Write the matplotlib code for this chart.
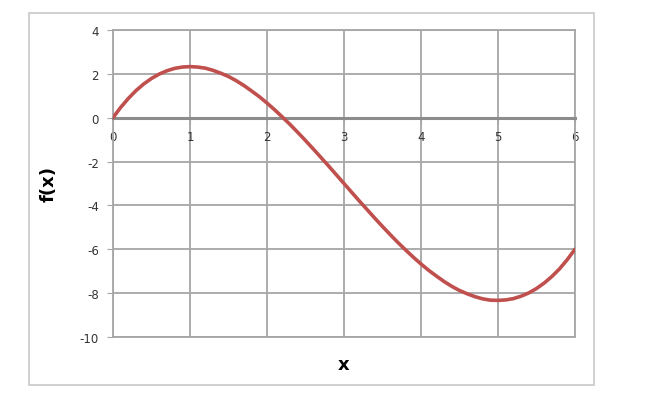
import matplotlib
matplotlib.use('Agg')
import matplotlib.pyplot as plt
from matplotlib.patches import Rectangle

plt.rcParams['axes.unicode_minus'] = False

# values (x step 0.1)
x_vals = [round(i * 0.1, 1) for i in range(61)]
f_vals = [0.00, 0.47, 0.88, 1.24, 1.54, 1.79, 1.99, 2.14, 2.25, 2.31,
          2.33, 2.31, 2.26, 2.16, 2.03, 1.88, 1.69, 1.47, 1.22, 0.96,
          0.67, 0.36, 0.03, -0.31, -0.67, -1.04, -1.42, -1.81, -2.20, -2.60,
          -3.00, -3.40, -3.80, -4.19, -4.58, -4.96, -5.33, -5.69, -6.03, -6.36,
          -6.67, -6.96, -7.22, -7.47, -7.69, -7.88, -8.03, -8.16, -8.26, -8.32,
          -8.33, -8.31, -8.25, -8.14, -7.99, -7.79, -7.54, -7.24, -6.89, -6.47,
          -6.00]
x_ticks = [0, 1, 2, 3, 4, 5, 6]
y_ticks = [-10, -8, -6, -4, -2, 0, 2, 4]

GRID = '#a6a6a6'
TEXT = '#333333'

fig = plt.figure(figsize=(6.5, 4.14), dpi=100)
fig.patches.append(Rectangle((0.0446, 0.0676), 0.869, 0.8986, transform=fig.transFigure,
                             fill=False, edgecolor='#c8c8c8', linewidth=1.2))
ax = fig.add_axes([0.1738, 0.1836, 0.7108, 0.7415])

ax.set_xlim(0, 6)
ax.set_ylim(-10, 4)
ax.set_xticks(x_ticks)
ax.set_yticks(y_ticks)
ax.grid(True, color=GRID, linewidth=1.3)
ax.axhline(-10, color=GRID, linewidth=1.3, clip_on=False)
ax.set_axisbelow(True)

ax.spines['bottom'].set_position(('data', 0))
ax.spines['bottom'].set_color('#8c8c8c')
ax.spines['bottom'].set_linewidth(2.2)
for side in ['left', 'top', 'right']:
    ax.spines[side].set_color(GRID)
    ax.spines[side].set_linewidth(1.3)

ax.tick_params(axis='x', colors=GRID, labelcolor=TEXT, labelsize=8.5, length=4, pad=5)
ax.tick_params(axis='y', colors=GRID, labelcolor=TEXT, labelsize=8.5, length=4, pad=6)

ax.plot(x_vals, f_vals, color='#c0504d', linewidth=2.6, solid_capstyle='round', zorder=3)

ax.set_xlabel('x', fontsize=13, fontweight='bold', labelpad=0)
ax.xaxis.set_label_coords(0.5, -0.06)
ax.set_ylabel('f(x)', fontsize=13, fontweight='bold')
ax.yaxis.set_label_coords(-0.12, 0.5)

fig.savefig('out.png', dpi=100)
